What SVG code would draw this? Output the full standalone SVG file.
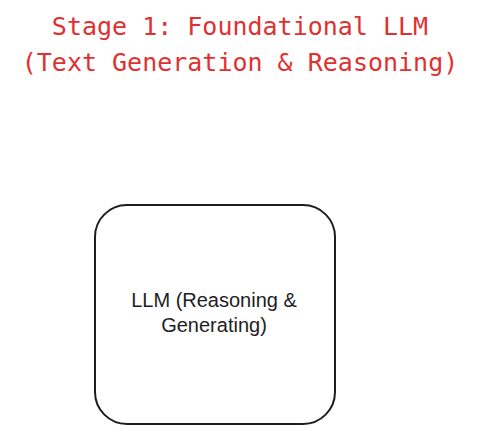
<svg xmlns="http://www.w3.org/2000/svg" width="478" height="434" viewBox="0 0 478 434">
<style>
.title{font-family:"DejaVu Sans Mono","Liberation Mono",monospace;font-size:25px;fill:#e03131;text-anchor:middle}
.lbl{font-family:"Liberation Sans",sans-serif;font-size:20px;fill:#1e1e1e;text-anchor:middle}
.box{fill:#ffffff;stroke:#1e1e1e;stroke-width:2}
</style>
<rect width="478" height="434" fill="#ffffff"/>
<g id="title">
<text class="title" x="240" y="35">Stage 1: Foundational LLM</text>
<text class="title" x="240" y="71">(Text Generation &amp; Reasoning)</text>
</g>
<g id="llm">
<rect class="box" x="95" y="205" width="240" height="219" rx="32" ry="32"/>
<text class="lbl" x="214" y="307">LLM (Reasoning &amp;</text>
<text class="lbl" x="214" y="332">Generating)</text>
</g>
<g id="connectors"></g>
</svg>
